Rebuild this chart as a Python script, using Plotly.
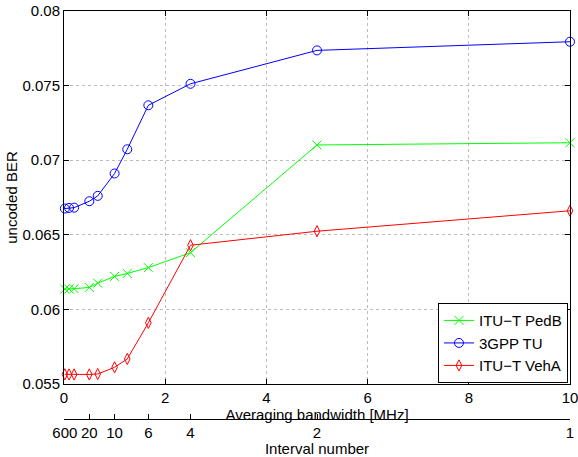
import plotly.graph_objects as go

# Interval numbers and corresponding averaging bandwidth (10/N MHz)
interval_numbers = [600, 100, 50, 20, 15, 10, 8, 6, 4, 2, 1]
bandwidth_mhz = [10.0 / n for n in interval_numbers]

ber_pedb = [0.06136, 0.06137, 0.06139, 0.06147, 0.06176, 0.06221, 0.06241, 0.06280, 0.06380, 0.07102, 0.07117]
ber_tu = [0.06676, 0.06680, 0.06682, 0.06725, 0.06761, 0.06911, 0.07073, 0.07368, 0.07512, 0.07736, 0.07794]
ber_veha = [0.05565, 0.05564, 0.05564, 0.05564, 0.05567, 0.05612, 0.05668, 0.05910, 0.06430, 0.06524, 0.06661]

x_ticks = [0, 2, 4, 6, 8, 10]
y_ticks = [0.055, 0.06, 0.065, 0.07, 0.075, 0.08]
y_ticktext = ["0.055", "0.06", "0.065", "0.07", "0.075", "0.08"]
interval_ticks = [600, 20, 10, 6, 4, 2, 1]

FONT = "Liberation Sans, Arial, Helvetica, sans-serif"
FS = 15

fig = go.Figure()
fig.add_trace(go.Scatter(
    x=bandwidth_mhz, y=ber_pedb, name="ITU\u2212T PedB", mode="lines+markers", cliponaxis=False,
    line=dict(color="#00ff00", width=1),
    marker=dict(symbol="x-thin-open", size=9, color="#00ff00", line=dict(color="#00ff00", width=1)),
))
fig.add_trace(go.Scatter(
    x=bandwidth_mhz, y=ber_tu, name="3GPP TU", mode="lines+markers", cliponaxis=False,
    line=dict(color="#0000ff", width=1),
    marker=dict(symbol="circle-open", size=9, color="#0000ff", line=dict(color="#0000ff", width=1)),
))
fig.add_trace(go.Scatter(
    x=bandwidth_mhz, y=ber_veha, name="ITU\u2212T VehA", mode="lines+markers", cliponaxis=False,
    line=dict(color="#ff0000", width=1),
    marker=dict(symbol="diamond-tall-open", size=8, color="#ff0000", line=dict(color="#ff0000", width=1)),
))
# invisible trace to host the secondary (interval number) axis
fig.add_trace(go.Scatter(x=[], y=[], xaxis="x2", yaxis="y", showlegend=False, hoverinfo="skip"))

W, H = 578, 457
mt, mb, ml, mr = 11, 38, 64, 8
plot_h = H - mt - mb
y0 = (419 - 384) / plot_h

fig.update_layout(
    width=W, height=H,
    margin=dict(l=ml, r=mr, t=mt, b=mb, pad=0),
    paper_bgcolor="white", plot_bgcolor="white",
    font=dict(family=FONT, size=FS, color="black"),
    showlegend=True,
    legend=dict(
        x=0.996, xanchor="right", y=y0 + 0.002, yanchor="bottom",
        bordercolor="black", borderwidth=1, bgcolor="white",
        font=dict(family=FONT, size=FS, color="black"),
        tracegroupgap=0, itemwidth=30,
    ),
    xaxis=dict(
        range=[0, 10], tickvals=x_ticks, ticktext=[str(v) for v in x_ticks],
        showline=True, linecolor="black", linewidth=1, mirror="ticks",
        ticks="inside", ticklen=5, tickcolor="black", ticklabeloverflow="allow",
        showgrid=True, gridcolor="#bdbdbd", griddash="dot", gridwidth=1,
        zeroline=False, anchor="y", automargin=False,
        tickfont=dict(size=FS),
        title=dict(text="Averaging bandwidth [MHz]", standoff=0, font=dict(size=FS)),
    ),
    xaxis2=dict(
        range=[0, 10], overlaying="x", anchor="free", position=0, side="bottom",
        tickvals=[10.0 / n for n in interval_ticks], ticktext=[str(n) for n in interval_ticks],
        showline=True, linecolor="black", linewidth=1, ticklabeloverflow="allow",
        ticks="inside", ticklen=5, tickcolor="black",
        showgrid=False, zeroline=False, automargin=False,
        tickfont=dict(size=FS),
        title=dict(text="Interval number", standoff=0, font=dict(size=FS)),
    ),
    yaxis=dict(
        domain=[y0, 1], range=[0.055, 0.08],
        tickvals=y_ticks, ticktext=y_ticktext,
        showline=True, linecolor="black", linewidth=1, mirror="ticks",
        ticks="inside", ticklen=5, tickcolor="black", ticklabeloverflow="allow",
        showgrid=True, gridcolor="#bdbdbd", griddash="dot", gridwidth=1,
        zeroline=False, automargin=False,
        tickfont=dict(size=FS),
        title=dict(text="uncoded BER", standoff=1, font=dict(size=FS)),
    ),
)

fig.write_html("out.html")
